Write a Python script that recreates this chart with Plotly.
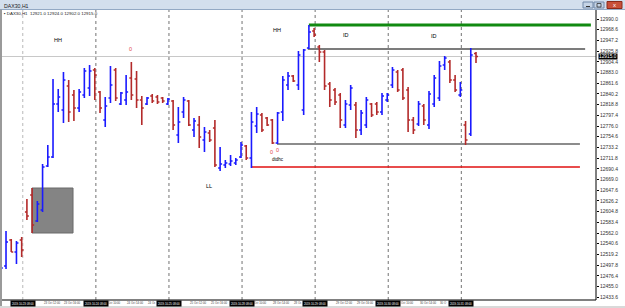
import plotly.graph_objects as go

# ---------------- data ----------------
bar_index = list(range(92))
open_ = [12448, 12496, 12548, 12524, 12548, 12604, 12638, 12586, 12608, 12696,
         12714, 12820, 12808, 12856, 12838, 12812, 12838, 12852, 12888, 12844,
         12788, 12832, 12888, 12820, 12828, 12872, 12870, 12828, 12820, 12836,
         12834, 12832, 12820, 12826, 12758, 12804, 12826, 12768, 12778, 12748,
         12762, 12772, 12692, 12698, 12700, 12702, 12714, 12736, 12712, 12776,
         12798, 12792, 12788, 12742, 12804, 12858, 12876, 12858, 12808, 12932,
         12966, 12934, 12924, 12860, 12848, 12838, 12778, 12818, 12818, 12768,
         12778, 12820, 12820, 12804, 12828, 12858, 12884, 12888, 12848, 12788,
         12780, 12816, 12778, 12820, 12832, 12898, 12904, 12868, 12838, 12778,
         12760, 12921]
high = [12498, 12566, 12550, 12546, 12554, 12630, 12652, 12626, 12700, 12738,
        12870, 12850, 12884, 12868, 12848, 12850, 12892, 12898, 12892, 12846,
        12834, 12896, 12892, 12844, 12878, 12904, 12886, 12836, 12834, 12840,
        12838, 12834, 12832, 12828, 12814, 12834, 12828, 12792, 12796, 12774,
        12768, 12788, 12734, 12708, 12718, 12712, 12744, 12738, 12804, 12814,
        12802, 12794, 12790, 12804, 12876, 12884, 12878, 12926, 12930, 12978,
        12972, 12938, 12928, 12864, 12852, 12842, 12828, 12858, 12824, 12808,
        12834, 12822, 12824, 12842, 12842, 12894, 12888, 12892, 12854, 12794,
        12826, 12820, 12846, 12878, 12906, 12916, 12908, 12878, 12864, 12786,
        12932, 12924]
low = [12442, 12490, 12524, 12500, 12514, 12588, 12562, 12584, 12604, 12694,
       12712, 12804, 12782, 12784, 12786, 12804, 12832, 12836, 12828, 12802,
       12774, 12822, 12826, 12818, 12818, 12828, 12812, 12778, 12818, 12822,
       12820, 12822, 12818, 12768, 12742, 12792, 12776, 12754, 12732, 12724,
       12744, 12694, 12686, 12692, 12696, 12698, 12712, 12708, 12692, 12762,
       12764, 12776, 12740, 12740, 12786, 12848, 12864, 12848, 12798, 12930,
       12954, 12904, 12848, 12814, 12818, 12772, 12772, 12808, 12752, 12758,
       12772, 12794, 12798, 12798, 12824, 12852, 12844, 12828, 12764, 12760,
       12776, 12778, 12770, 12814, 12826, 12888, 12862, 12844, 12834, 12738,
       12756, 12902]
close = [12492, 12544, 12524, 12542, 12528, 12596, 12578, 12620, 12694, 12714,
         12820, 12834, 12868, 12804, 12812, 12844, 12886, 12886, 12878, 12812,
         12816, 12858, 12832, 12842, 12844, 12838, 12828, 12812, 12832, 12826,
         12824, 12826, 12830, 12778, 12784, 12828, 12778, 12786, 12754, 12764,
         12748, 12698, 12700, 12702, 12706, 12708, 12738, 12712, 12784, 12800,
         12768, 12778, 12742, 12802, 12868, 12876, 12866, 12918, 12928, 12964,
         12958, 12924, 12856, 12828, 12824, 12788, 12820, 12852, 12768, 12802,
         12828, 12798, 12804, 12836, 12838, 12888, 12848, 12832, 12788, 12768,
         12820, 12788, 12840, 12872, 12896, 12912, 12868, 12848, 12848, 12748,
         12918, 12915]

y_ticks = [12990.0, 12968.6, 12947.2, 12925.8, 12904.4, 12883.0, 12861.6, 12840.2,
           12818.8, 12797.4, 12776.0, 12754.6, 12733.2, 12711.8, 12690.4, 12669.0,
           12647.6, 12626.2, 12604.8, 12583.4, 12562.0, 12540.6, 12519.2, 12497.8,
           12476.4, 12455.0, 12433.6]

day_start_bars = [4, 18, 32, 46, 60, 74, 88]
day_start_labels = ["2019.10.23 08:00", "2019.10.24 08:00", "2019.10.25 08:00",
                    "2019.10.28 08:00", "2019.10.29 08:00", "2019.10.30 08:00",
                    "2019.10.31 08:00"]
# visible parts of the time-axis labels (others are hidden behind the black boxes)
time_label_bars = [0, 8, 12, 20.35, 24, 28, 36, 40, 48.35, 52, 56, 64, 68, 76.35, 80, 84]
time_label_text = ["22 Oc", "23 Oct 12:00", "23 Oct 16:00",
                   "Oct 10:00", "24 Oct 14:00", "24 Oc",
                   "25 Oct 12:00", "25 Oct 16:00",
                   "Oct 10:00", "28 Oct 14:00", "28 Oc",
                   "29 Oct 12:00", "29 Oct 16:00",
                   "Oct 10:00", "30 Oct 14:00", "30 O"]

level_price = [12978, 12930, 12740, 12694]
level_start = [59.0, 58.8, 52.9, 47.9]
level_end = [113.0, 111.9, 110.9, 110.9]
level_color = ["#118a11", "#505050", "#8c8c8c", "#e01010"]
level_width = [3, 1.5, 2, 1.5]

box_bars = [5.97, 13.83]
box_prices = [12562, 12652]

bid_price = 12915.0

notes_text = ["HH", "HH", "ID", "ID", "LL", "dtdhc"]
notes_bar = [10.95, 52.9, 66.1, 83.0, 39.9, 53.0]
notes_price = [12948, 12968, 12958, 12956, 12656, 12710]
notes_size = [5.5, 5.5, 5.5, 5.5, 5.5, 4.5]

marks_text = ["0", "0", "0"]
marks_bar = [24.9, 51.8, 52.9]
marks_price = [12930, 12724, 12728]

FONT = "Liberation Sans"
W, H = 625, 308


def px(x):
    return x / W


def py(y):
    return 1 - y / H


fig = go.Figure()
fig.add_trace(go.Ohlc(
    x=bar_index, open=open_, high=high, low=low, close=close,
    increasing=dict(line=dict(color="#1a1aff", width=1.6)),
    decreasing=dict(line=dict(color="#b32a2a", width=1.6)),
    tickwidth=0.38, hoverinfo="skip", showlegend=False))

shapes = []
# title bar
shapes.append(dict(type="rect", xref="paper", yref="paper", x0=0, x1=1,
                   y0=py(9.5), y1=1, fillcolor="#d3dfed", line=dict(width=0), layer="above"))
shapes.append(dict(type="line", xref="paper", yref="paper", x0=0, x1=1,
                   y0=py(9.5), y1=py(9.5), line=dict(color="#93a9c4", width=1), layer="above"))
# left frame
shapes.append(dict(type="rect", xref="paper", yref="paper", x0=0, x1=px(2),
                   y0=0, y1=py(9.5), fillcolor="#9a9a9a", line=dict(width=0), layer="above"))
# bottom frame
shapes.append(dict(type="rect", xref="paper", yref="paper", x0=0, x1=1,
                   y0=0, y1=py(306), fillcolor="#d9d9d9", line=dict(width=0), layer="above"))
# axis lines
shapes.append(dict(type="line", xref="paper", yref="paper", x0=px(596), x1=px(596),
                   y0=py(300), y1=py(10), line=dict(color="#000000", width=1), layer="above"))
shapes.append(dict(type="line", xref="paper", yref="paper", x0=px(2), x1=px(596),
                   y0=py(300), y1=py(300), line=dict(color="#000000", width=1), layer="above"))
# window buttons
shapes.append(dict(type="rect", xref="paper", yref="paper", x0=px(583), x1=px(593),
                   y0=py(8), y1=py(2), fillcolor="#c5d4e6", line=dict(color="#7088a8", width=1), layer="above"))
shapes.append(dict(type="rect", xref="paper", yref="paper", x0=px(594), x1=px(604),
                   y0=py(8), y1=py(2), fillcolor="#c5d4e6", line=dict(color="#7088a8", width=1), layer="above"))
shapes.append(dict(type="rect", xref="paper", yref="paper", x0=px(607), x1=px(622),
                   y0=py(8.5), y1=py(1.5), fillcolor="#c8503a", line=dict(color="#8b2a1a", width=1), layer="above"))
shapes.append(dict(type="line", xref="paper", yref="paper", x0=px(586), x1=px(590),
                   y0=py(6.5), y1=py(6.5), line=dict(color="#333333", width=1), layer="above"))
shapes.append(dict(type="rect", xref="paper", yref="paper", x0=px(597), x1=px(601),
                   y0=py(7), y1=py(3.5), line=dict(color="#333333", width=0.8), layer="above"))

# day separators
for k, b in enumerate(day_start_bars):
    shapes.append(dict(type="line", xref="x", yref="paper", x0=b + 0.2, x1=b + 0.2,
                       y0=py(300), y1=py(10),
                       line=dict(color="#c4c4c4" if k == 0 else "#8a8a8a", width=1.2, dash="dot"),
                       layer="below"))

# rectangle object
shapes.append(dict(type="rect", xref="x", yref="y", x0=box_bars[0], x1=box_bars[1],
                   y0=box_prices[0], y1=box_prices[1], fillcolor="#848484",
                   line=dict(color="#6a6a6a", width=1), layer="below"))

# bid line
shapes.append(dict(type="line", xref="paper", yref="y", x0=px(2), x1=px(596),
                   y0=bid_price, y1=bid_price, line=dict(color="#c8c8c8", width=1), layer="below"))

# trend levels
for p, s, e, c, w in zip(level_price, level_start, level_end, level_color, level_width):
    shapes.append(dict(type="line", xref="x", yref="y", x0=s, x1=e, y0=p, y1=p,
                       line=dict(color=c, width=w), layer="below"))

ann = []
# header
ann.append(dict(xref="paper", yref="paper", x=px(3), y=py(1.8), xanchor="left", yanchor="top",
                text="DAX30,H1", showarrow=False, borderpad=0,
                font=dict(size=5.2, color="#1a1a1a", family=FONT)))
ann.append(dict(xref="paper", yref="paper", x=px(3), y=py(13), xanchor="left", yanchor="middle",
                text="▪ DAX30,H1  12921.0 12924.0 12902.0 12915.0", showarrow=False, borderpad=0,
                font=dict(size=4.4, color="#222222", family=FONT)))
ann.append(dict(xref="paper", yref="paper", x=px(614.5), y=py(5), xanchor="center", yanchor="middle",
                text="x", showarrow=False, borderpad=0,
                font=dict(size=6, color="#ffffff", family=FONT)))

# chart notes
for t, b, p, s in zip(notes_text, notes_bar, notes_price, notes_size):
    ann.append(dict(x=b, y=p, xref="x", yref="y", text=t, showarrow=False, borderpad=0,
                    font=dict(size=s, color="#000000", family=FONT)))
for t, b, p in zip(marks_text, marks_bar, marks_price):
    ann.append(dict(x=b, y=p, xref="x", yref="y", text=t, showarrow=False, borderpad=0,
                    font=dict(size=5.5, color="#e04848", family=FONT)))

# time axis labels
for b, t in zip(time_label_bars, time_label_text):
    ann.append(dict(x=b, y=py(303), xref="x", yref="paper", xanchor="left", yanchor="middle",
                    text=t, showarrow=False, borderpad=0,
                    font=dict(size=2.8, color="#404040", family=FONT)))
for b, t in zip(day_start_bars, day_start_labels):
    ann.append(dict(x=b + 0.2, y=py(303), xref="x", yref="paper", xanchor="center", yanchor="middle",
                    text=t, showarrow=False, bgcolor="#000000", width=24, height=5, borderpad=0,
                    font=dict(size=2.8, color="#ffffff", family=FONT)))

# current price label
ann.append(dict(xref="paper", yref="y", x=px(598), y=bid_price, xanchor="left", yanchor="middle",
                text=f"{bid_price:.1f}", showarrow=False, bgcolor="#000000", borderpad=0,
                height=4.6, font=dict(size=4.8, color="#ffffff", family=FONT)))

fig.update_layout(
    width=W, height=H, margin=dict(l=0, r=0, t=0, b=0),
    paper_bgcolor="#ffffff", plot_bgcolor="#ffffff",
    shapes=shapes, annotations=ann, showlegend=False,
    xaxis=dict(domain=[px(2), px(596)], range=[0.23, 113.98], showticklabels=False,
               showgrid=False, zeroline=False, showline=False, rangeslider=dict(visible=False),
               fixedrange=True),
    yaxis=dict(domain=[py(300), py(15)], range=[12428, 12998], side="right",
               tickvals=y_ticks, ticktext=[f"{v:.1f}" for v in y_ticks],
               ticks="outside", ticklen=2, tickcolor="#000000", showgrid=False,
               zeroline=False, showline=False, automargin=False,
               tickfont=dict(size=5.0, color="#333333", family=FONT)),
)

fig.write_html("out.html")
